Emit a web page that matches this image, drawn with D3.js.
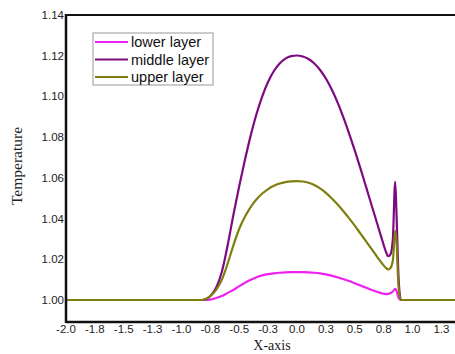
<!DOCTYPE html>
<html>
<head>
<meta charset="utf-8">
<script src="https://cdn.jsdelivr.net/npm/d3@7"></script>
<style>
  body { margin: 0; background: #fff; }
  .tick-label { font-family: "Liberation Sans", Arial, sans-serif; font-size: 11.5px; fill: #222; }
  .legend { font-family: "Liberation Sans", Arial, sans-serif; font-size: 14.5px; fill: #111; }
  .axis-title { font-family: "Liberation Serif", "Times New Roman", serif; fill: #222; }
</style>
</head>
<body>
<script>
var w = 455;
var h = 354;

var margin = {top: 15, left: 66, bottom: 32};

// data
var xs = [-2.0, -0.82, -0.75, -0.70, -0.65, -0.60, -0.55, -0.50, -0.45, -0.40, -0.35, -0.30, -0.25,
  -0.20, -0.15, -0.10, -0.05, 0.00, 0.05, 0.10, 0.15, 0.20, 0.25, 0.30, 0.35, 0.40, 0.45, 0.50,
  0.55, 0.60, 0.65, 0.70, 0.74, 0.77, 0.79, 0.81, 0.83, 0.85, 0.86, 0.88, 0.90, 2.0];

var lowerLayer = [1.000, 1.000, 1.0002, 1.001, 1.002, 1.0035, 1.005, 1.0068, 1.0085, 1.0100, 1.0112, 1.0121, 1.0127,
  1.0131, 1.0134, 1.0136, 1.0137, 1.0137, 1.0137, 1.0136, 1.0134, 1.0131, 1.0126, 1.0120, 1.0112, 1.0103, 1.0093, 1.0082,
  1.0071, 1.006, 1.0049, 1.0039, 1.0032, 1.0029, 1.003, 1.0034, 1.0042, 1.0055, 1.0048, 1.001, 1.000, 1.000];

var middleLayer = [1.000, 1.000, 1.002, 1.006, 1.014, 1.027, 1.042, 1.056, 1.069, 1.081, 1.0915, 1.1002, 1.1072,
  1.1125, 1.1162, 1.1186, 1.1198, 1.1201, 1.1196, 1.1184, 1.1162, 1.1130, 1.1088, 1.1035, 1.0972, 1.0900, 1.0820, 1.0735,
  1.0645, 1.0552, 1.0458, 1.0365, 1.0290, 1.0237, 1.0215, 1.0225, 1.030, 1.058, 1.045, 1.010, 1.000, 1.000];

var upperLayer = [1.000, 1.000, 1.002, 1.005, 1.010, 1.018, 1.027, 1.035, 1.041, 1.0458, 1.0495, 1.0523, 1.0545,
  1.0561, 1.0572, 1.0579, 1.0583, 1.0584, 1.0582, 1.0576, 1.0565, 1.0548, 1.0526, 1.0500, 1.0470, 1.0437, 1.0402, 1.0365,
  1.0326, 1.0287, 1.0247, 1.0207, 1.0177, 1.0158, 1.0150, 1.0158, 1.0195, 1.034, 1.030, 1.006, 1.000, 1.000];

var seriesNames = ["lower layer", "middle layer", "upper layer"];
var seriesColors = ["#f020f0", "#7d0a80", "#7f7f10"];

var yTicks = [1.00, 1.02, 1.04, 1.06, 1.08, 1.10, 1.12, 1.14];
var xTicks = [-2.0, -1.75, -1.5, -1.25, -1.0, -0.75, -0.5, -0.25, 0.0, 0.25, 0.5, 0.75, 1.0, 1.25];
var xTickLabels = ["-2.0", "-1.8", "-1.5", "-1.3", "-1.0", "-0.8", "-0.5", "-0.3", "0.0", "0.3", "0.5", "0.8", "1.0", "1.3"];

var svg = d3.select("body").append("svg")
    .attr("width", w)
    .attr("height", h);

// scales - plot runs past the right edge of the window like the original
var x = d3.scaleLinear().domain([-2, 2]).range([margin.left, margin.left + 462]);
var y = d3.scaleLinear().domain([0.9892, 1.14]).range([h - margin.bottom, margin.top]);

var plotBottom = h - margin.bottom;

// curves
var line = d3.line()
    .x(function(d) { return x(d[0]); })
    .y(function(d) { return y(d[1]); })
    .curve(d3.curveMonotoneX);

[lowerLayer, middleLayer, upperLayer].forEach(function(vals, i) {
  svg.append("path")
      .datum(xs.map(function(v, j) { return [v, vals[j]]; }))
      .attr("fill", "none")
      .attr("stroke", seriesColors[i])
      .attr("stroke-width", 2.2)
      .attr("stroke-linejoin", "round")
      .attr("d", line);
});

// frame: top line, left axis, bottom axis
svg.append("line")
    .attr("x1", margin.left).attr("x2", w)
    .attr("y1", margin.top).attr("y2", margin.top)
    .attr("stroke", "#111").attr("stroke-width", 2);

svg.append("line")
    .attr("x1", margin.left).attr("x2", w)
    .attr("y1", plotBottom).attr("y2", plotBottom)
    .attr("stroke", "#111").attr("stroke-width", 2.5);

svg.append("line")
    .attr("x1", margin.left).attr("x2", margin.left)
    .attr("y1", margin.top - 1).attr("y2", plotBottom + 1)
    .attr("stroke", "#111").attr("stroke-width", 2.5);

// y tick labels
svg.selectAll(".ylab")
    .data(yTicks)
    .enter().append("text")
    .attr("class", "tick-label")
    .attr("x", margin.left - 2)
    .attr("y", function(d) { return y(d); })
    .attr("dy", ".35em")
    .attr("text-anchor", "end")
    .text(function(d) { return d.toFixed(2); });

// x tick labels
svg.selectAll(".xlab")
    .data(xTicks)
    .enter().append("text")
    .attr("class", "tick-label")
    .attr("x", function(d) { return x(d); })
    .attr("y", plotBottom + 11)
    .attr("text-anchor", "middle")
    .text(function(d, i) { return xTickLabels[i]; });

// axis titles
svg.append("text")
    .attr("class", "axis-title")
    .attr("x", 272)
    .attr("y", 350)
    .attr("text-anchor", "middle")
    .style("font-size", "14px")
    .text("X-axis");

svg.append("text")
    .attr("class", "axis-title")
    .attr("transform", "translate(22,166) rotate(-90)")
    .attr("text-anchor", "middle")
    .style("font-size", "15.5px")
    .text("Temperature");

// legend
var legend = svg.append("g")
    .attr("transform", "translate(93,33)");

legend.append("rect")
    .attr("width", 120)
    .attr("height", 52)
    .attr("fill", "#fff")
    .attr("stroke", "#999")
    .attr("stroke-width", 1);

seriesNames.forEach(function(name, i) {
  var ly = 9 + i * 17.5;
  legend.append("line")
      .attr("x1", 2).attr("x2", 35)
      .attr("y1", ly).attr("y2", ly)
      .attr("stroke", seriesColors[i])
      .attr("stroke-width", 2.2);
  legend.append("text")
      .attr("class", "legend")
      .attr("x", 38)
      .attr("y", ly)
      .attr("dy", ".35em")
      .text(name);
});
</script>
</body>
</html>
